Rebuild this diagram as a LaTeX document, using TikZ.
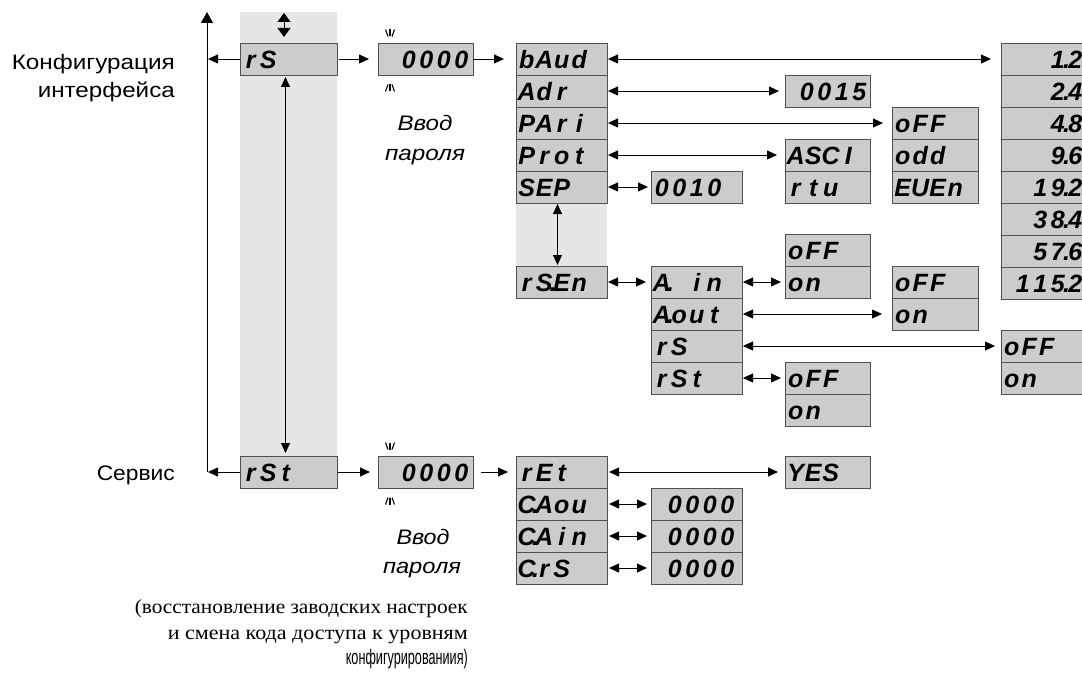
\documentclass[tikz,border=0pt]{standalone}
\usepackage{fontspec}
\usepackage{graphicx}
\usetikzlibrary{arrows.meta,calc}
\setmainfont{Liberation Serif}
\newfontfamily\sansf{Liberation Sans}
\newcommand\fitw[2]{\resizebox{#1}{\height}{#2}}
\newcommand\blankcell{}
\makeatletter
\def\cells#1{\cells@#1\@nil}
\def\cells@#1{\ifx\@nil#1\else\cellone{#1}\expandafter\cells@\fi}
\def\cellone#1{\ifx.#1\makebox[0pt]{.}\else\makebox[17.5pt]{#1}\fi}
\makeatother
\definecolor{boxfill}{HTML}{CCCCCC}
\definecolor{boxline}{HTML}{505050}
\definecolor{bandc}{HTML}{E6E6E6}
\tikzset{
  seg/.style={draw=boxline, fill=boxfill, line width=0.9pt, anchor=north west, outer sep=0pt,
    minimum height=32pt, inner ysep=0pt, text height=19pt, text depth=0pt,
    font=\sansf\bfseries\itshape\fontsize{25pt}{25pt}\selectfont},
  wA/.style={seg, minimum width=97pt, text width=93pt, inner xsep=2pt, align=left},
  wZ/.style={seg, minimum width=95pt, text width=89pt, inner xsep=3pt, align=right},
  wM/.style={seg, minimum width=91pt, text width=87pt, inner xsep=2pt, align=left},
  wMr/.style={seg, minimum width=91pt, text width=79pt, inner xsep=6pt, align=right},
  wP/.style={seg, minimum width=85pt, text width=81pt, inner xsep=2pt, align=left},
  wPr/.style={seg, minimum width=85pt, text width=81pt, inner xsep=2pt, align=right},
  wQ/.style={seg, minimum width=86pt, text width=82pt, inner xsep=2pt, align=left},
  wS/.style={seg, minimum width=84pt, text width=80pt, inner xsep=2pt, align=left},
  wSr/.style={seg, minimum width=84pt, text width=82pt, inner xsep=1pt, align=right},
  conn/.style={draw=black, line width=0.8pt},
  blk/.style={draw=black, line width=1.1pt},
  lblsans/.style={inner sep=0pt, font=\sansf\fontsize{21pt}{21pt}\selectfont},
  lblit/.style={inner sep=0pt, anchor=base, font=\sansf\fontsize{21pt}{21pt}\selectfont\itshape},
  lblserif/.style={inner sep=0pt, anchor=base east, font=\fontsize{20pt}{20pt}\selectfont},
}
\newcommand\blinkup[2]{%
  \draw[blk] (#1-4.5,#2-3.5) -- (#1-2,#2+3.5);
  \draw[blk] (#1,#2-3.5) -- (#1,#2+3.5);
  \draw[blk] (#1+4.5,#2-3.5) -- (#1+2,#2+3.5);}
\newcommand\blinkdown[2]{%
  \draw[blk] (#1-4.5,#2+3.5) -- (#1-2,#2-3.5);
  \draw[blk] (#1,#2-3.5) -- (#1,#2+3.5);
  \draw[blk] (#1+4.5,#2+3.5) -- (#1+2,#2-3.5);}
\begin{document}
\begin{tikzpicture}[x=1pt,y=-1pt,>={Triangle[length=10pt,width=9pt]}]
\useasboundingbox (0,0) rectangle (1082,677);
% background bands
\fill[bandc] (240,12) rectangle (337,456);
\fill[bandc] (516,203) rectangle (607,266);

% ---- top branch ----
\node[wA] (rs) at (240,43) {\cells{rS}};
\node[wZ] (pwa) at (378,43) {\cells{0000}};
\node[wM] (baud) at (516,43) {\cells{bAud}};
\node[wM] (adr) at (516,75) {\cells{Adr}};
\node[wM] (pari) at (516,107) {\cells{PAri}};
\node[wM] (prot) at (516,139) {\cells{Prot}};
\node[wM] (sep) at (516,171) {\cells{SEP}};
\node[wM] (v0010) at (651,171) {\cells{0010}};
\node[wPr] (v0015) at (785,75) {\cells{0015}};
\node[wP] (asci) at (785,139) {\cells{ASCI}};
\node[wP] (rtu) at (785,171) {\cells{rtu}};
\node[wQ] (poff) at (892,107) {\cells{oFF}};
\node[wQ] (podd) at (892,139) {\cells{odd}};
\node[wQ] (peven) at (892,171) {\cells{EUEn}};
\node[wSr] (s1) at (1001,43) {\cells{1.2}};
\node[wSr] (s2) at (1001,75) {\cells{2.4}};
\node[wSr] (s3) at (1001,107) {\cells{4.8}};
\node[wSr] (s4) at (1001,139) {\cells{9.6}};
\node[wSr] (s5) at (1001,171) {\cells{19.2}};
\node[wSr] (s6) at (1001,203) {\cells{38.4}};
\node[wSr] (s7) at (1001,235) {\cells{57.6}};
\node[wSr] (s8) at (1001,267) {\cells{115.2}};

\node[wM] (rsen) at (516,266) {\cells{rS.En}};
\node[wM] (ain) at (651,266) {\cells{A.\blankcell in}};
\node[wM] (aout) at (651,298) {\cells{A.out}};
\node[wM] (rsx) at (651,330) {\cells{rS}};
\node[wM] (rstx) at (651,362) {\cells{rSt}};
\node[wP] (offa) at (785,234) {\cells{oFF}};
\node[wP] (ona) at (785,266) {\cells{on}};
\node[wQ] (offb) at (892,266) {\cells{oFF}};
\node[wQ] (onb) at (892,298) {\cells{on}};
\node[wS] (offc) at (1001,330) {\cells{oFF}};
\node[wS] (onc) at (1001,362) {\cells{on}};
\node[wP] (offd) at (785,362) {\cells{oFF}};
\node[wP] (ond) at (785,394) {\cells{on}};

% ---- bottom branch ----
\node[wA] (rst) at (240,456) {\cells{rSt}};
\node[wZ] (pwb) at (378,456) {\cells{0000}};
\node[wM] (ret) at (516,456) {\cells{rEt}};
\node[wM] (caou) at (516,488) {\cells{C.Aou}};
\node[wM] (cain) at (516,520) {\cells{C.Ain}};
\node[wM] (crs) at (516,552) {\cells{C.rS}};
\node[wP] (yes) at (785,456) {\cells{YES}};
\node[wMr] (za) at (651,488) {\cells{0000}};
\node[wMr] (zb) at (651,520) {\cells{0000}};
\node[wMr] (zc) at (651,552) {\cells{0000}};

% ---- labels ----
\node[lblsans, anchor=base east] (konf) at (175,70) {\fitw{163pt}{Конфигурация}};
\node[lblsans, anchor=base east] (intf) at (175,97) {\fitw{137pt}{интерфейса}};
\node[lblsans, anchor=base east] (serv) at (175,480) {\fitw{78pt}{Сервис}};
\node[lblit] (vvoda) at (425,130) {\fitw{55pt}{Ввод}};
\node[lblit] (parola) at (425,160) {\fitw{80pt}{пароля}};
\node[lblit] (vvodb) at (423,544) {\fitw{53pt}{Ввод}};
\node[lblit] (parolb) at (422,573) {\fitw{78pt}{пароля}};
\node[lblserif] (capa) at (468,613) {\fitw{333pt}{(восстановление заводских настроек}};
\node[lblserif] (capb) at (468,639) {\fitw{300pt}{и смена кода доступа к уровням}};
\node[inner sep=0pt, anchor=base east, font=\sansf\fontsize{21pt}{21pt}\selectfont] (capc) at (468,664) {\fitw{122pt}{конфигурированиия)}};

% ---- blink marks ----
\blinkup{390}{33}
\blinkdown{390}{88}
\blinkup{390}{446}
\blinkdown{390}{501}

% ---- connectors ----
\coordinate (vtop) at (207,12);
\coordinate (vbot) at (207,472);
\coordinate (dta) at (284,13);
\coordinate (dtb) at (284,37);
\draw[conn,{Triangle[length=9pt,width=13pt]}-{Triangle[length=9pt,width=13pt]}] (dta) -- (dtb);
\draw[conn,-{Triangle[length=11pt,width=12pt]}] (vbot) -- (vtop);
\draw[conn,->,shorten >=1pt] (rs.west) -- (rs.west -| vtop);
\draw[conn,->,shorten >=1pt] (rst.west) -- (rst.west -| vtop);
\draw[conn,<->,shorten <=2pt,shorten >=3pt] ([xshift=-3pt]rs.south) -- ([xshift=-3pt]rst.north);
\draw[conn,->,shorten <=2pt,shorten >=9pt] (rs.east) -- (pwa.west);
\draw[conn,->,shorten >=12pt] (pwa.east) -- (baud.west);
\draw[conn,<->,shorten <=1pt,shorten >=10pt] (baud.east) -- (s1.west);
\draw[conn,<->,shorten <=1pt,shorten >=6pt] (adr.east) -- (v0015.west);
\draw[conn,<->,shorten <=1pt,shorten >=9pt] (pari.east) -- (poff.west);
\draw[conn,<->,shorten <=1pt,shorten >=8pt] (prot.east) -- (asci.west);
\draw[conn,<->,shorten <=1pt,shorten >=3pt] (sep.east) -- (v0010.west);
\draw[conn,<->,shorten <=1pt,shorten >=1pt] ([xshift=-4pt]sep.south) -- ([xshift=-4pt]rsen.north);
\draw[conn,<->,shorten <=1pt,shorten >=5pt] (rsen.east) -- (ain.west);
\draw[conn,<->,shorten <=1pt,shorten >=4pt] (ain.east) -- (ona.west);
\draw[conn,<->,shorten <=1pt,shorten >=10pt] (aout.east) -- (onb.west);
\draw[conn,<->,shorten <=1pt,shorten >=6pt] (rsx.east) -- (offc.west);
\draw[conn,<->,shorten <=1pt,shorten >=4pt] (rstx.east) -- (offd.west);
\draw[conn,->,shorten <=1pt,shorten >=8pt] (rst.east) -- (pwb.west);
\draw[conn,->,shorten <=8pt,shorten >=8pt] (pwb.east) -- (ret.west);
\draw[conn,<->,shorten <=2pt,shorten >=7pt] (ret.east) -- (yes.west);
\draw[conn,<->,shorten <=2pt,shorten >=4pt] (caou.east) -- (za.west);
\draw[conn,<->,shorten <=2pt,shorten >=4pt] (cain.east) -- (zb.west);
\draw[conn,<->,shorten <=2pt,shorten >=4pt] (crs.east) -- (zc.west);
\end{tikzpicture}
\end{document}
